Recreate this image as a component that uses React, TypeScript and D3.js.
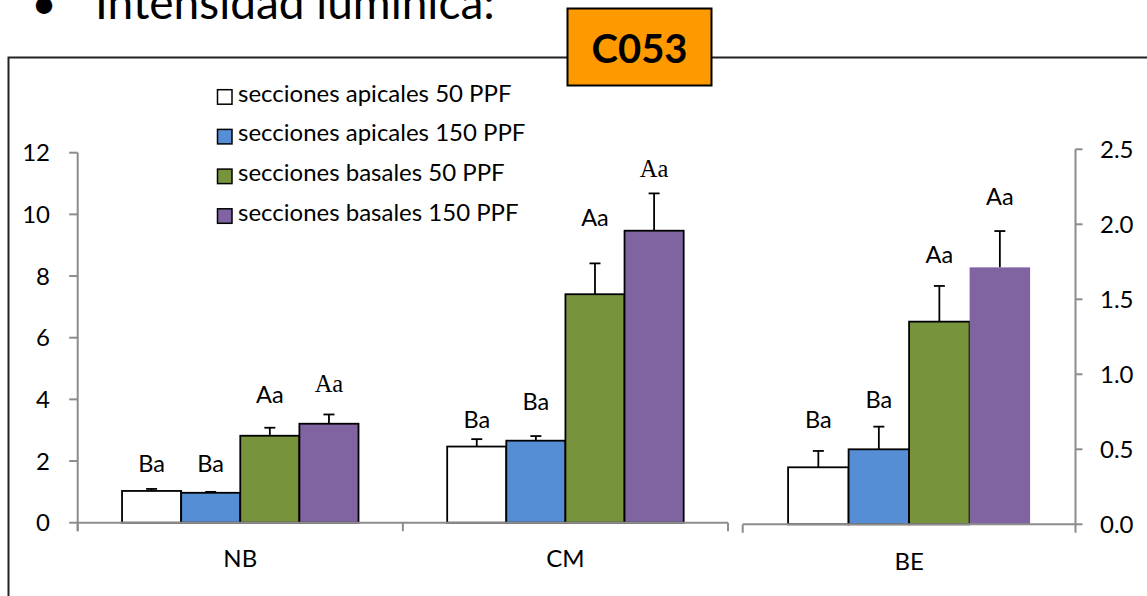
import React from "react";
import * as d3 from "d3";

// ---------- data ----------
const leftCategories = ["NB", "CM"];
const rightCategories = ["BE"];
const seriesNames = [
  "secciones apicales 50 PPF",
  "secciones apicales 150 PPF",
  "secciones basales 50 PPF",
  "secciones basales 150 PPF",
];
const seriesColors = ["#FFFFFF", "#558ED5", "#77933C", "#8064A2"];

const nbValues = [1.03, 0.97, 2.82, 3.21];
const nbErrors = [0.065, 0.03, 0.26, 0.3];
const nbLabels = ["Ba", "Ba", "Aa", "Aa"];
const nbLabelLevel = [1.64, 1.64, 3.88, 4.24];

const cmValues = [2.47, 2.66, 7.41, 9.47];
const cmErrors = [0.24, 0.15, 1.0, 1.21];
const cmLabels = ["Ba", "Ba", "Aa", "Aa"];
const cmLabelLevel = [3.07, 3.66, 9.62, 11.21];

const beValues = [0.38, 0.5, 1.351, 1.713];
const beErrors = [0.109, 0.151, 0.238, 0.242];
const beLabels = ["Ba", "Ba", "Aa", "Aa"];
const beLabelLevel = [0.642, 0.775, 1.742, 2.129];

const leftTicks = [0, 2, 4, 6, 8, 10, 12];
const rightTicks = [0, 0.5, 1.0, 1.5, 2.0, 2.5];

const titleText = "Intensidad lumínica:";
const badgeText = "C053";

// ---------- rendering config ----------
const serifLabelKeys = new Set(["NB-3", "CM-3"]);
const noOutlineKeys = new Set(["BE-3"]);

const FONT = "Lato, 'Open Sans', sans-serif";
const AXIS = "#8C8C8C";
const FS = 24;

export default function App() {
  const W = 1147;
  const H = 596;

  const xLeft = d3.scaleBand<string>().domain(leftCategories).range([77.7, 728]).padding(0);
  const xRight = d3.scaleBand<string>().domain(rightCategories).range([742.7, 1075.5]).padding(0);
  const yLeft = d3.scaleLinear().domain([0, 12]).range([522.7, 152.7]);
  const yRight = d3.scaleLinear().domain([0, 2.5]).range([524.3, 149.3]);

  const groups = [
    { cat: "NB", x: xLeft, y: yLeft, values: nbValues, errors: nbErrors, labels: nbLabels, levels: nbLabelLevel },
    { cat: "CM", x: xLeft, y: yLeft, values: cmValues, errors: cmErrors, labels: cmLabels, levels: cmLabelLevel },
    { cat: "BE", x: xRight, y: yRight, values: beValues, errors: beErrors, labels: beLabels, levels: beLabelLevel },
  ];

  const marks: React.ReactNode[] = [];
  groups.forEach((g) => {
    const x0 = g.x(g.cat)!;
    const inner = d3
      .scaleBand<string>()
      .domain(seriesNames)
      .range([0, g.x.bandwidth()])
      .paddingInner(0)
      .paddingOuter(0.75);
    const bw = inner.bandwidth();
    seriesNames.forEach((s, i) => {
      const key = `${g.cat}-${i}`;
      const bx = x0 + inner(s)!;
      const yTop = g.y(g.values[i]);
      const yBase = g.y(0);
      const yErr = g.y(g.values[i] + g.errors[i]);
      const cx = bx + bw / 2;
      const serif = serifLabelKeys.has(key);
      marks.push(
        <g key={key}>
          <line x1={cx} x2={cx} y1={yTop} y2={yErr} stroke="#000" strokeWidth={1.8} />
          <line x1={cx - 5.5} x2={cx + 5.5} y1={yErr} y2={yErr} stroke="#000" strokeWidth={1.8} />
          <rect
            x={bx}
            y={yTop}
            width={bw}
            height={yBase - yTop}
            fill={seriesColors[i]}
            stroke={noOutlineKeys.has(key) ? "none" : "#000"}
            strokeWidth={1.8}
          />
          <text
            x={cx}
            y={g.y(g.levels[i])}
            textAnchor="middle"
            fontFamily={serif ? "'Liberation Serif', 'Times New Roman', serif" : FONT}
            fontSize={serif ? 24.5 : 23.5}
            fill="#000"
          >
            {g.labels[i]}
          </text>
        </g>
      );
    });
  });

  const lAxisX = 77.7;
  const rAxisX = 1075.5;

  return (
    <svg
      width={W}
      height={H}
      style={{ position: "absolute", left: 0, top: 0, background: "#fff" }}
      fontFamily={FONT}
    >
      <rect x={0} y={0} width={W} height={H} fill="#fff" />
      {/* title */}
      <text x={44} y={19} textAnchor="middle" fontSize={44} fill="#000">•</text>
      <text x={95} y={18.5} fontSize={46} fill="#000">{titleText}</text>

      {/* outer frame */}
      <rect x={8.5} y={57.5} width={W + 20} height={H + 20} fill="none" stroke="#222" strokeWidth={2} />

      {/* bars */}
      {marks}

      {/* left axis */}
      <line x1={lAxisX} x2={lAxisX} y1={yLeft(12)} y2={yLeft(0) + 8.5} stroke={AXIS} strokeWidth={2} />
      {leftTicks.map((t) => (
        <g key={`lt${t}`}>
          <line x1={lAxisX - 8.5} x2={lAxisX} y1={yLeft(t)} y2={yLeft(t)} stroke={AXIS} strokeWidth={2} />
          <text x={50} y={yLeft(t)} dy="0.36em" textAnchor="end" fontSize={FS} fill="#000">
            {t}
          </text>
        </g>
      ))}
      <line x1={lAxisX} x2={728} y1={yLeft(0)} y2={yLeft(0)} stroke={AXIS} strokeWidth={2} />
      {[77.7, ...leftCategories.map((c) => xLeft(c)! + xLeft.bandwidth())].map((x, i) => (
        <line key={`lct${i}`} x1={x} x2={x} y1={yLeft(0)} y2={yLeft(0) + 8.5} stroke={AXIS} strokeWidth={2} />
      ))}
      {leftCategories.map((c) => (
        <text key={`lc${c}`} x={xLeft(c)! + xLeft.bandwidth() / 2} y={567} textAnchor="middle" fontSize={FS} fill="#000">
          {c}
        </text>
      ))}

      {/* right chart axes */}
      <line x1={742.7} x2={rAxisX} y1={yRight(0)} y2={yRight(0)} stroke={AXIS} strokeWidth={2} />
      <line x1={742.7} x2={742.7} y1={yRight(0)} y2={yRight(0) + 8.5} stroke={AXIS} strokeWidth={2} />
      <line x1={rAxisX} x2={rAxisX} y1={yRight(2.5)} y2={yRight(0) + 8.5} stroke={AXIS} strokeWidth={2} />
      {rightTicks.map((t) => (
        <g key={`rt${t}`}>
          <line x1={rAxisX} x2={rAxisX + 7} y1={yRight(t)} y2={yRight(t)} stroke={AXIS} strokeWidth={2} />
          <text x={1100} y={yRight(t)} dy="0.36em" textAnchor="start" fontSize={FS} fill="#000">
            {d3.format(".1f")(t)}
          </text>
        </g>
      ))}
      {rightCategories.map((c) => (
        <text key={`rc${c}`} x={xRight(c)! + xRight.bandwidth() / 2} y={570} textAnchor="middle" fontSize={FS} fill="#000">
          {c}
        </text>
      ))}

      {/* legend */}
      {seriesNames.map((s, i) => {
        const base = 101.7 + i * 39.7;
        return (
          <g key={`lg${i}`}>
            <rect x={217.5} y={base - 12} width={14.5} height={14.5} fill={seriesColors[i]} stroke="#000" strokeWidth={1.5} />
            <text x={238} y={base} fontSize={FS} fill="#000">
              {s}
            </text>
          </g>
        );
      })}

      {/* badge */}
      <rect x={567.5} y={8.5} width={144} height={77} fill="#FF9900" stroke="#000" strokeWidth={2} />
      <text x={639.5} y={63} textAnchor="middle" fontSize={40} fontWeight="bold" fill="#000">
        {badgeText}
      </text>
    </svg>
  );
}
